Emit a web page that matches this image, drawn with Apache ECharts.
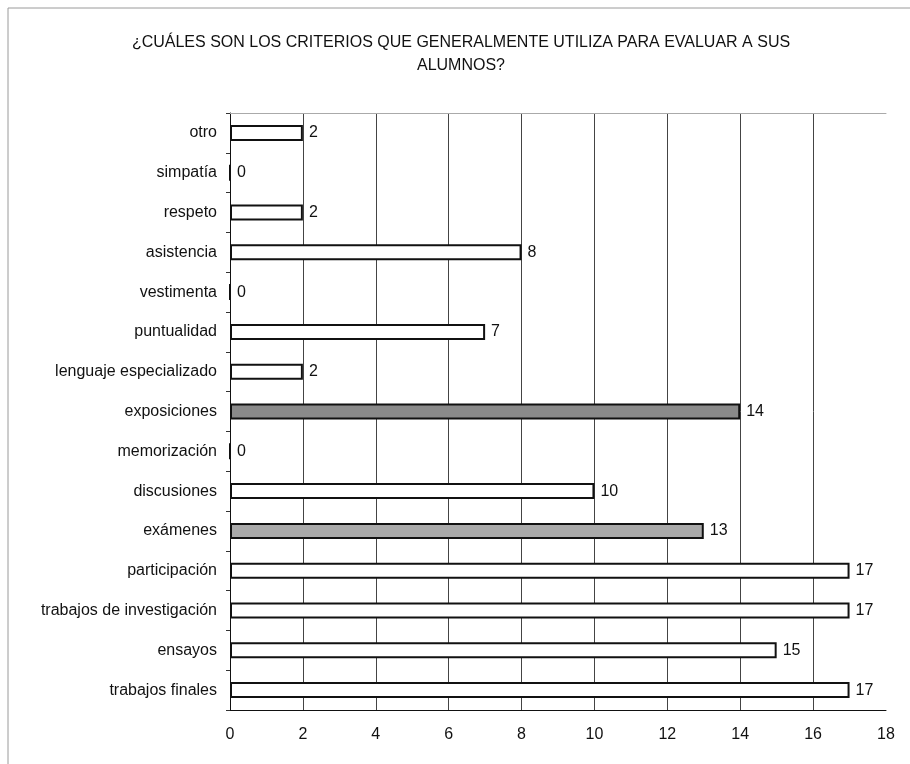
<!DOCTYPE html>
<html>
<head>
<meta charset="utf-8">
<script src="https://cdn.jsdelivr.net/npm/echarts@6/dist/echarts.min.js"></script>
<style>html,body{margin:0;padding:0;background:#fff;}#c{width:910px;height:764px;}</style>
</head>
<body>
<div id="c"></div>
<script>
const titleText = '¿CUÁLES SON LOS CRITERIOS QUE GENERALMENTE UTILIZA PARA EVALUAR A SUS\nALUMNOS?';
const categories = ['otro','simpatía','respeto','asistencia','vestimenta','puntualidad','lenguaje especializado','exposiciones','memorización','discusiones','exámenes','participación','trabajos de investigación','ensayos','trabajos finales'];
const values = [2,0,2,8,0,7,2,14,0,10,13,17,17,15,17];
const xTicks = [0,2,4,6,8,10,12,14,16,18];

const shadeFill = {'exposiciones':'#8a8a8a','exámenes':'#a9a9a9'};
const FONT = 'Liberation Sans, Arial, sans-serif';

const chart = echarts.init(document.getElementById('c'), null, {renderer:'canvas'});
const gridColors = xTicks.map((t,i)=> i===0 || i===xTicks.length-1 ? 'rgba(0,0,0,0)' : '#444');

chart.setOption({
  backgroundColor:'#fff',
  animation:false,
  title:{
    text:titleText, left:461, top:31, padding:0, textAlign:'center',
    textStyle:{fontFamily:FONT,fontSize:16,fontWeight:'normal',color:'#111',lineHeight:23}
  },
  graphic:[
    {type:'line',shape:{x1:8,y1:8,x2:910,y2:8},style:{stroke:'#9a9a9a',lineWidth:1}},
    {type:'line',shape:{x1:8,y1:8,x2:8,y2:764},style:{stroke:'#9a9a9a',lineWidth:1}}
  ],
  grid:{left:230,right:24,top:113,bottom:54,containLabel:false},
  xAxis:[{
    type:'value',min:xTicks[0],max:xTicks[xTicks.length-1],interval:2,
    axisLine:{show:true,lineStyle:{color:'#111',width:1}},
    axisTick:{show:false},
    axisLabel:{margin:17,fontFamily:FONT,fontSize:16,color:'#111'},
    splitLine:{show:true,lineStyle:{color:gridColors,width:1}}
  },{
    type:'value',position:'top',min:xTicks[0],max:xTicks[xTicks.length-1],interval:2,
    axisLine:{show:true,lineStyle:{color:'#aaa',width:1}},
    axisTick:{show:false},axisLabel:{show:false},splitLine:{show:false}
  }],
  yAxis:{
    type:'category',data:categories,inverse:true,
    axisLine:{show:true,lineStyle:{color:'#111',width:1}},
    axisTick:{show:true,length:4,inside:false,lineStyle:{color:'#333'}},
    axisLabel:{margin:13,fontFamily:FONT,fontSize:16,color:'#111'}
  },
  series:[{
    type:'bar',
    barWidth:16,
    data:values.map((v,i)=>({value:v,itemStyle:{color:shadeFill[categories[i]]||'#ffffff'}})),
    itemStyle:{borderColor:'#111',borderWidth:2},
    label:{show:true,position:'right',distance:6,fontFamily:FONT,fontSize:16,color:'#111'}
  }]
});
</script>
</body>
</html>
